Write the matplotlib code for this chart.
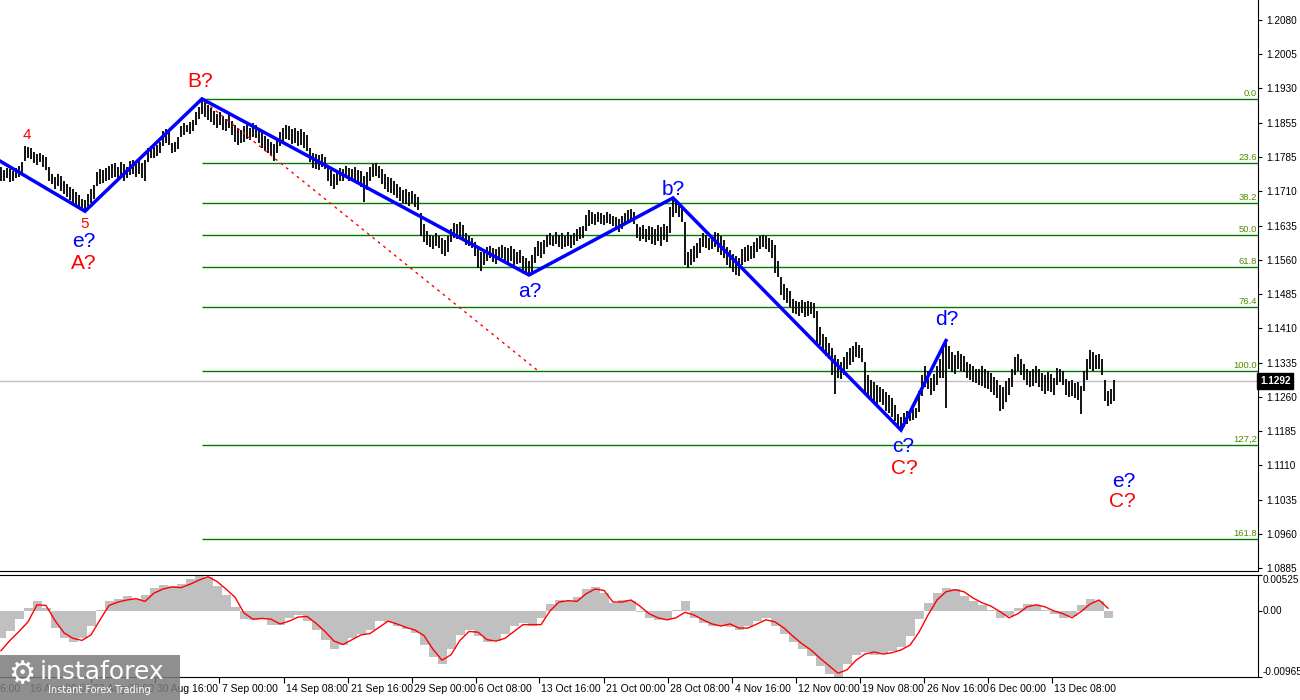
import numpy as np
import matplotlib.pyplot as plt
import matplotlib as mpl
from matplotlib.transforms import blended_transform_factory as blend

mpl.rcParams['font.family'] = 'DejaVu Sans'

# --- price bars (EURUSD, one bar per 3 px column), high / low ---
highs = [
    1.1760, 1.1752, 1.1758, 1.1755, 1.1750, 1.1757, 1.1762, 1.1770, 1.1806, 1.1803,
    1.1800, 1.1792, 1.1788, 1.1790, 1.1785, 1.1782, 1.1760, 1.1745, 1.1738, 1.1745,
    1.1740, 1.1730, 1.1722, 1.1715, 1.1712, 1.1705, 1.1698, 1.1690, 1.1688, 1.1700,
    1.1712, 1.1720, 1.1748, 1.1755, 1.1752, 1.1758, 1.1762, 1.1765, 1.1768, 1.1760,
    1.1770, 1.1765, 1.1760, 1.1772, 1.1775, 1.1770, 1.1777, 1.1768, 1.1775, 1.1800,
    1.1805, 1.1802, 1.1808, 1.1815, 1.1838, 1.1843, 1.1835, 1.1812, 1.1815, 1.1825,
    1.1848, 1.1855, 1.1852, 1.1858, 1.1862, 1.1880, 1.1890, 1.1908, 1.1905, 1.1895,
    1.1888, 1.1882, 1.1875, 1.1880, 1.1870, 1.1865, 1.1872, 1.1860, 1.1850, 1.1845,
    1.1840, 1.1848, 1.1852, 1.1845, 1.1855, 1.1850, 1.1840, 1.1835, 1.1828, 1.1820,
    1.1815, 1.1810, 1.1822, 1.1835, 1.1845, 1.1852, 1.1848, 1.1842, 1.1845, 1.1838,
    1.1842, 1.1835, 1.1830, 1.1800, 1.1790, 1.1788, 1.1785, 1.1787, 1.1782, 1.1760,
    1.1752, 1.1745, 1.1750, 1.1758, 1.1755, 1.1762, 1.1758, 1.1755, 1.1760, 1.1752,
    1.1750, 1.1740, 1.1748, 1.1760, 1.1765, 1.1768, 1.1762, 1.1755, 1.1745, 1.1738,
    1.1735, 1.1728, 1.1722, 1.1715, 1.1710, 1.1712, 1.1705, 1.1708, 1.1700, 1.1695,
    1.1660, 1.1635, 1.1620, 1.1612, 1.1608, 1.1615, 1.1610, 1.1605, 1.1600, 1.1608,
    1.1625, 1.1638, 1.1635, 1.1640, 1.1632, 1.1615, 1.1610, 1.1605, 1.1595, 1.1580,
    1.1575, 1.1578, 1.1585, 1.1588, 1.1582, 1.1580, 1.1586, 1.1590, 1.1585, 1.1582,
    1.1588, 1.1580, 1.1575, 1.1578, 1.1565, 1.1560, 1.1555, 1.1568, 1.1585, 1.1598,
    1.1595, 1.1600, 1.1612, 1.1615, 1.1610, 1.1618, 1.1612, 1.1615, 1.1610, 1.1618,
    1.1612, 1.1615, 1.1625, 1.1628, 1.1630, 1.1655, 1.1665, 1.1662, 1.1658, 1.1662,
    1.1660, 1.1655, 1.1662, 1.1658, 1.1652, 1.1650, 1.1645, 1.1652, 1.1660, 1.1665,
    1.1668, 1.1662, 1.1635, 1.1628, 1.1632, 1.1625, 1.1630, 1.1628, 1.1625, 1.1632,
    1.1628, 1.1635, 1.1630, 1.1672, 1.1692, 1.1688, 1.1680, 1.1670, 1.1640, 1.1575,
    1.1580, 1.1588, 1.1594, 1.1605, 1.1615, 1.1612, 1.1605, 1.1610, 1.1618, 1.1615,
    1.1608, 1.1600, 1.1585, 1.1578, 1.1570, 1.1565, 1.1560, 1.1580, 1.1585, 1.1590,
    1.1588, 1.1595, 1.1605, 1.1610, 1.1612, 1.1608, 1.1605, 1.1600, 1.1590, 1.1555,
    1.1520, 1.1505, 1.1495, 1.1490, 1.1472, 1.1468, 1.1465, 1.1470, 1.1465, 1.1468,
    1.1465, 1.1462, 1.1445, 1.1410, 1.1395, 1.1388, 1.1375, 1.1365, 1.1350, 1.1340,
    1.1335, 1.1345, 1.1355, 1.1365, 1.1370, 1.1378, 1.1372, 1.1365, 1.1335, 1.1305,
    1.1295, 1.1290, 1.1285, 1.1280, 1.1275, 1.1268, 1.1262, 1.1255, 1.1240, 1.1220,
    1.1215, 1.1222, 1.1228, 1.1225, 1.1232, 1.1235, 1.1270, 1.1305, 1.1325, 1.1315,
    1.1300, 1.1308, 1.1325, 1.1340, 1.1365, 1.1381, 1.1370, 1.1355, 1.1350, 1.1358,
    1.1352, 1.1348, 1.1335, 1.1330, 1.1325, 1.1320, 1.1318, 1.1325, 1.1320, 1.1315,
    1.1310, 1.1302, 1.1295, 1.1285, 1.1280, 1.1292, 1.1300, 1.1320, 1.1345, 1.1352,
    1.1340, 1.1330, 1.1320, 1.1315, 1.1320, 1.1325, 1.1318, 1.1310, 1.1305, 1.1312,
    1.1308, 1.1300, 1.1322, 1.1320, 1.1315, 1.1298, 1.1292, 1.1295, 1.1288, 1.1290,
    1.1282, 1.1315, 1.1340, 1.1360, 1.1355, 1.1350, 1.1352, 1.1340, 1.1295, 1.1270,
    1.1275, 1.1295,
]
lows = [
    1.1730, 1.1728, 1.1735, 1.1727, 1.1730, 1.1736, 1.1738, 1.1742, 1.1772, 1.1780,
    1.1777, 1.1768, 1.1764, 1.1770, 1.1760, 1.1752, 1.1728, 1.1722, 1.1712, 1.1718,
    1.1708, 1.1700, 1.1695, 1.1688, 1.1680, 1.1675, 1.1670, 1.1666, 1.1663, 1.1670,
    1.1680, 1.1690, 1.1718, 1.1722, 1.1725, 1.1728, 1.1732, 1.1735, 1.1738, 1.1730,
    1.1740, 1.1728, 1.1735, 1.1742, 1.1745, 1.1738, 1.1745, 1.1736, 1.1730, 1.1770,
    1.1780, 1.1778, 1.1783, 1.1790, 1.1805, 1.1812, 1.1808, 1.1790, 1.1792, 1.1798,
    1.1825, 1.1830, 1.1835, 1.1832, 1.1838, 1.1850, 1.1865, 1.1875, 1.1868, 1.1862,
    1.1858, 1.1852, 1.1845, 1.1850, 1.1840, 1.1837, 1.1845, 1.1830, 1.1815, 1.1808,
    1.1812, 1.1815, 1.1820, 1.1818, 1.1825, 1.1822, 1.1812, 1.1800, 1.1795, 1.1790,
    1.1785, 1.1772, 1.1790, 1.1805, 1.1815, 1.1820, 1.1818, 1.1810, 1.1812, 1.1805,
    1.1808, 1.1800, 1.1795, 1.1770, 1.1758, 1.1755, 1.1752, 1.1760, 1.1755, 1.1728,
    1.1718, 1.1712, 1.1720, 1.1728, 1.1730, 1.1735, 1.1730, 1.1728, 1.1732, 1.1725,
    1.1715, 1.1684, 1.1710, 1.1730, 1.1738, 1.1740, 1.1735, 1.1722, 1.1712, 1.1705,
    1.1702, 1.1698, 1.1692, 1.1685, 1.1680, 1.1678, 1.1675, 1.1680, 1.1672, 1.1665,
    1.1610, 1.1595, 1.1590, 1.1585, 1.1580, 1.1588, 1.1582, 1.1570, 1.1565, 1.1575,
    1.1595, 1.1605, 1.1602, 1.1610, 1.1600, 1.1590, 1.1588, 1.1582, 1.1565, 1.1540,
    1.1532, 1.1545, 1.1555, 1.1560, 1.1552, 1.1548, 1.1556, 1.1560, 1.1552, 1.1548,
    1.1555, 1.1546, 1.1548, 1.1550, 1.1535, 1.1530, 1.1524, 1.1530, 1.1550, 1.1565,
    1.1560, 1.1570, 1.1585, 1.1590, 1.1588, 1.1592, 1.1585, 1.1580, 1.1585, 1.1588,
    1.1582, 1.1590, 1.1598, 1.1602, 1.1605, 1.1620, 1.1630, 1.1635, 1.1632, 1.1640,
    1.1636, 1.1632, 1.1638, 1.1635, 1.1630, 1.1622, 1.1618, 1.1625, 1.1632, 1.1638,
    1.1640, 1.1635, 1.1605, 1.1598, 1.1602, 1.1595, 1.1600, 1.1592, 1.1590, 1.1598,
    1.1588, 1.1600, 1.1595, 1.1615, 1.1650, 1.1660, 1.1650, 1.1640, 1.1545, 1.1540,
    1.1545, 1.1552, 1.1560, 1.1572, 1.1585, 1.1582, 1.1578, 1.1580, 1.1585, 1.1575,
    1.1568, 1.1562, 1.1545, 1.1540, 1.1530, 1.1525, 1.1522, 1.1545, 1.1552, 1.1555,
    1.1558, 1.1562, 1.1575, 1.1580, 1.1585, 1.1580, 1.1575, 1.1560, 1.1528, 1.1520,
    1.1480, 1.1470, 1.1462, 1.1455, 1.1440, 1.1438, 1.1435, 1.1440, 1.1432, 1.1435,
    1.1438, 1.1430, 1.1370, 1.1372, 1.1355, 1.1348, 1.1340, 1.1305, 1.1265, 1.1300,
    1.1298, 1.1305, 1.1320, 1.1328, 1.1335, 1.1345, 1.1342, 1.1335, 1.1265, 1.1262,
    1.1250, 1.1245, 1.1240, 1.1248, 1.1240, 1.1228, 1.1222, 1.1215, 1.1205, 1.1192,
    1.1186, 1.1192, 1.1200, 1.1205, 1.1208, 1.1212, 1.1225, 1.1260, 1.1280, 1.1275,
    1.1262, 1.1270, 1.1285, 1.1300, 1.1300, 1.1234, 1.1318, 1.1312, 1.1308, 1.1320,
    1.1315, 1.1312, 1.1300, 1.1295, 1.1290, 1.1288, 1.1285, 1.1282, 1.1278, 1.1275,
    1.1268, 1.1262, 1.1255, 1.1228, 1.1232, 1.1248, 1.1262, 1.1280, 1.1305, 1.1315,
    1.1305, 1.1295, 1.1285, 1.1280, 1.1282, 1.1288, 1.1280, 1.1272, 1.1265, 1.1270,
    1.1268, 1.1262, 1.1285, 1.1290, 1.1285, 1.1262, 1.1258, 1.1260, 1.1255, 1.1252,
    1.1220, 1.1270, 1.1295, 1.1318, 1.1315, 1.1320, 1.1318, 1.1305, 1.1250, 1.1238,
    1.1242, 1.1250,
]
last_price = 1.1292

# wave count (bar index, price)
wave_x = [-1, 28, 67, 176, 224, 300, 315]
wave_p = [1.1775, 1.1663, 1.1908, 1.1524, 1.1692, 1.1186, 1.1381]

# fibonacci grid
fib_0, fib_100 = 1.1908, 1.1315
fib_levels = [0.0, 23.6, 38.2, 50.0, 61.8, 76.4, 100.0, 127.2, 161.8]
fib_names = ['0.0', '23.6', '38.2', '50.0', '61.8', '76.4', '100.0', '127,2', '161.8']
fib_start = 67

# red dotted trend line
trend_x = [68, 179]
trend_p = [1.1901, 1.1315]

# MACD (every 3rd bar)
macd_hist = [
    -0.0040, -0.0030, -0.0012, 0.0005, 0.0014, 0.0005, -0.0025, -0.0040, -0.0046, -0.0040,
    -0.0022, 0.0002, 0.0014, 0.0018, 0.0022, 0.0018, 0.0024, 0.0034, 0.0038, 0.0036,
    0.0040, 0.0046, 0.0052, 0.0050, 0.0036, 0.0024, 0.0006, -0.0012, -0.0013, -0.0012,
    -0.0020, -0.0020, -0.0010, -0.0006, -0.0014, -0.0028, -0.0042, -0.0055, -0.0050, -0.0040,
    -0.0034, -0.0028, -0.0014, -0.0016, -0.0022, -0.0027, -0.0032, -0.0050, -0.0068, -0.0078,
    -0.0055, -0.0035, -0.0028, -0.0036, -0.0046, -0.0044, -0.0034, -0.0022, -0.0018, -0.0022,
    -0.0010, 0.0010, 0.0016, 0.0015, 0.0020, 0.0032, 0.0035, 0.0026, 0.0012, 0.0016,
    0.0014, -0.0002, -0.0010, -0.0013, -0.0012, 0.0002, 0.0015, -0.0010, -0.0018, -0.0022,
    -0.0022, -0.0024, -0.0028, -0.0022, -0.0014, -0.0010, -0.0022, -0.0034, -0.0046, -0.0056,
    -0.0066, -0.0080, -0.0092, -0.0096, -0.0078, -0.0064, -0.0060, -0.0064, -0.0062, -0.0058,
    -0.0052, -0.0036, -0.0012, 0.0012, 0.0026, 0.0033, 0.0032, 0.0022, 0.0014, 0.0008,
    0.0002, -0.0010, -0.0008, 0.0004, 0.0010, 0.0008, 0.0002, -0.0004, -0.0010, -0.0008,
    0.0008, 0.0018, 0.0014, -0.0010,
]
macd_signal = [
    -0.0058, -0.0043, -0.0030, -0.0016, 0.0009, 0.0008, -0.0014, -0.0032, -0.0040, -0.0043,
    -0.0035, -0.0013, 0.0008, 0.0013, 0.0016, 0.0018, 0.0014, 0.0026, 0.0032, 0.0035,
    0.0034, 0.0039, 0.0045, 0.0050, 0.0043, 0.0032, 0.0020, -0.0003, -0.0012, -0.0011,
    -0.0012, -0.0019, -0.0015, -0.0009, -0.0008, -0.0018, -0.0030, -0.0044, -0.0049, -0.0042,
    -0.0035, -0.0033, -0.0024, -0.0015, -0.0019, -0.0024, -0.0028, -0.0036, -0.0056, -0.0072,
    -0.0064, -0.0043, -0.0030, -0.0031, -0.0042, -0.0044, -0.0040, -0.0030, -0.0020, -0.0020,
    -0.0020, 0.0000, 0.0013, 0.0015, 0.0014, 0.0025, 0.0032, 0.0030, 0.0013, 0.0013,
    0.0016, 0.0007, -0.0004, -0.0010, -0.0013, -0.0010, -0.0002, -0.0006, -0.0013, -0.0019,
    -0.0022, -0.0019, -0.0025, -0.0025, -0.0019, -0.0013, -0.0016, -0.0025, -0.0037, -0.0048,
    -0.0057, -0.0069, -0.0080, -0.0091, -0.0086, -0.0072, -0.0063, -0.0060, -0.0063, -0.0061,
    -0.0057, -0.0050, -0.0031, -0.0006, 0.0016, 0.0028, 0.0031, 0.0028, 0.0019, 0.0012,
    0.0007, -0.0001, -0.0010, -0.0004, 0.0006, 0.0009, 0.0006, 0.0000, -0.0004, -0.0010,
    -0.0001, 0.0010, 0.0016, 0.0004,
]

price_labels = ['1.2080', '1.2005', '1.1930', '1.1855', '1.1785', '1.1710', '1.1635', '1.1560',
                '1.1485', '1.1410', '1.1335', '1.1260', '1.1185', '1.1110', '1.1035', '1.0960',
                '1.0885']
time_pos = [-12.7, 8.7, 30.0, 51.3, 72.7, 94.3, 115.7, 137.0, 158.3, 179.3, 201.0,
            222.3, 243.7, 265.0, 286.3, 307.7, 329.0, 350.3]
time_labels = ['6 Aug 16:00', '16 Aug 00:00', '23 Aug 08:00', '30 Aug 16:00', '7 Sep 00:00',
               '14 Sep 08:00', '21 Sep 16:00', '29 Sep 00:00', '6 Oct 08:00', '13 Oct 16:00',
               '21 Oct 00:00', '28 Oct 08:00', '4 Nov 16:00', '12 Nov 00:00', '19 Nov 08:00',
               '26 Nov 16:00', '6 Dec 00:00', '13 Dec 08:00']

RED = '#ff0000'; BLUE = '#0000ff'; FIB = '#007a00'; FIBTXT = '#4f8c00'
AXF = 'Liberation Sans'; AXS = 7.2
W, H = 1300, 700
XMIN, XMAX = -1/3, 1258/3 - 1/3

fig = plt.figure(figsize=(13, 7), dpi=100)
ax = fig.add_axes([0, 1 - 571/H, 1258/W, 571/H])
ind = fig.add_axes([0, 1 - 677/H, 1258/W, 102/H])

# ================= main price window =================
x = np.arange(len(highs))
ax.vlines(x, lows, highs, color='black', linewidth=1.3)

ax.axhline(last_price, color='#c0c0c0', linewidth=1, zorder=1)

fib_prices = [fib_0 - lv/100*(fib_0 - fib_100) for lv in fib_levels]
ax.hlines(fib_prices, fib_start, XMAX, color=FIB, linewidth=1, zorder=1)
for fp, nm in zip(fib_prices, fib_names):
    ax.text(XMAX - 0.4, fp + 0.0002, nm, ha='right', va='bottom', fontsize=6.8,
            family=AXF, color=FIBTXT)

ax.plot(trend_x, trend_p, color=RED, linewidth=1, linestyle=(0, (2, 3)))
ax.plot(wave_x, wave_p, color=BLUE, linewidth=2.5, solid_joinstyle='miter', zorder=4)

lab = dict(ha='center', va='center', family='Liberation Sans', fontsize=15, zorder=5)
ax.text(8.7, 1.1829, '4', color=RED, **{**lab, 'fontsize': 11})
ax.text(27.7, 1.1635, '5', color=RED, **{**lab, 'fontsize': 11})
ax.text(27.7, 1.1598, 'e?', color=BLUE, **lab)
ax.text(27.7, 1.1548, 'A?', color=RED, **lab)
ax.text(66.3, 1.1945, 'B?', color=RED, **lab)
ax.text(176.3, 1.1487, 'a?', color=BLUE, **lab)
ax.text(224.0, 1.1711, 'b?', color=BLUE, **lab)
ax.text(300.7, 1.1149, 'c?', color=BLUE, **lab)
ax.text(301.0, 1.1103, 'C?', color=RED, **lab)
ax.text(315.3, 1.1426, 'd?', color=BLUE, **lab)
ax.text(374.3, 1.1073, 'e?', color=BLUE, **lab)
ax.text(373.7, 1.1029, 'C?', color=RED, **lab)

ax.set_xlim(XMIN, XMAX)
ax.set_ylim(1.08785, 1.21236)
ax.set_xticks([])
ax.yaxis.tick_right()
ax.set_yticks(np.linspace(1.2080, 1.0885, len(price_labels)))
ax.set_yticklabels(price_labels, family=AXF)
ax.tick_params(axis='y', length=3, pad=3, labelsize=AXS, color='black', labelcolor='black')
for s in ['top', 'left']:
    ax.spines[s].set_visible(False)

ax.text(1.0015, last_price, '1.1292', transform=blend(ax.transAxes, ax.transData),
        ha='left', va='center', fontsize=AXS, family=AXF, color='white', fontweight='bold',
        bbox=dict(boxstyle='square,pad=0.3', fc='black', ec='black'), clip_on=False)

# ================= MACD window =================
mx = np.arange(len(macd_hist)) * 3
ind.bar(mx, macd_hist, width=3, color='#c0c0c0', linewidth=0)
ind.plot(mx, macd_signal, color=RED, linewidth=1)
ind.set_xlim(XMIN, XMAX)
ind.set_ylim(-0.00965, 0.00525)
ind.spines['left'].set_visible(False)
ind.yaxis.tick_right()
ind.set_yticks([0.00525, 0.0, -0.00965])
ind.set_yticklabels([])
ind.tick_params(axis='y', length=3, color='black')
tr = blend(ind.transAxes, ind.transData)
ind.text(1.0035, 0.00525, '0.00525', transform=tr, ha='left', va='top', fontsize=AXS, family=AXF)
ind.text(1.0035, 0.0, '0.00', transform=tr, ha='left', va='center', fontsize=AXS, family=AXF)
ind.text(1.0035, -0.00965, '-0.00965', transform=tr, ha='left', va='bottom', fontsize=AXS,
         family=AXF)

ind.set_xticks([p for p in time_pos if p > XMIN])
ind.set_xticklabels([])
ind.tick_params(axis='x', length=4, color='black', direction='out')
trx = blend(ind.transData, ind.transAxes)
for p, t in zip(time_pos, time_labels):
    ind.text(p + 0.8, -0.07, t, transform=trx, ha='left', va='top', fontsize=7.5,
             family=AXF, clip_on=False)

# ================= logo =================
fig.patches.append(mpl.patches.Rectangle((0, 0), 180/W, 45/H, transform=fig.transFigure,
                                         facecolor='#7c7c7c', alpha=0.85, zorder=10))
fig.text(22/W, 1 - 675/H, '\u2699', fontsize=22, color='white', ha='center', va='center', zorder=11)
fig.text(40/W, 1 - 672/H, 'instaforex', fontsize=18, color='white', ha='left', va='center', zorder=11)
fig.text(48/W, 1 - 690/H, 'Instant Forex Trading', fontsize=7, color='white', ha='left',
         va='center', zorder=11)

fig.savefig('out.png', dpi=100)
